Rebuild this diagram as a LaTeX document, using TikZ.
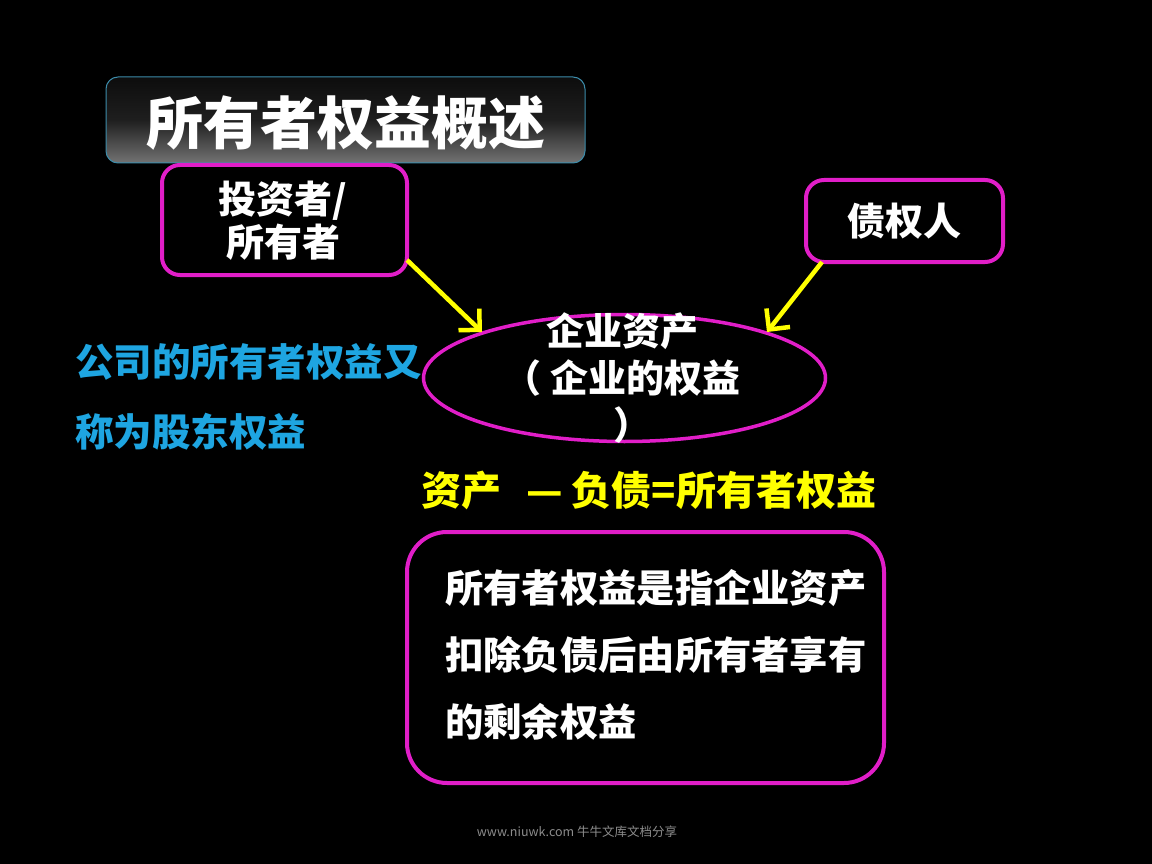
\documentclass[tikz,border=0pt]{standalone}
\usepackage{fontspec}
\setmainfont{Noto Sans CJK SC}
\usetikzlibrary{shapes.geometric,arrows.meta}
\definecolor{mag}{RGB}{225,30,200}
\definecolor{sky}{RGB}{30,165,225}
\definecolor{yel}{RGB}{255,255,0}
\definecolor{titleedge}{RGB}{60,140,170}
\tikzset{
  pinkbox/.style={draw=mag, line width=4pt, rounded corners=18pt, fill=black},
  wtext/.style={text=white, align=center, inner sep=0pt},
  yarrow/.style={draw=yel, line width=4.5pt, -{Straight Barb[length=15pt,width=30pt,line width=4.5pt]}},
}
\begin{document}
\begin{tikzpicture}[x=1pt,y=-1pt]
\fill[black] (0,0) rectangle (1152,864);
\useasboundingbox (0,0) rectangle (1152,864);
% title
\node[draw=titleedge, line width=1pt, rounded corners=12pt, minimum width=479pt, minimum height=86pt,
  top color=black!95, bottom color=black!55, middle color=black!88] (title) at (345.5,120) {};
\node[text=white, font=\bfseries\fontsize{57}{60}\selectfont, inner sep=0pt] (titletext) at (346,123) {所有者权益概述};
% investor box
\node[pinkbox, minimum width=245pt, minimum height=110pt] (inv) at (284.5,220) {};
\node[wtext, font=\bfseries\fontsize{38}{43}\selectfont] (invt) at (283,221) {投资者/\\所有者};
% creditor box
\node[pinkbox, minimum width=197pt, minimum height=82pt] (cred) at (904.5,221) {};
\node[wtext, font=\bfseries\fontsize{38}{40}\selectfont] (credt) at (904,221) {债权人};
% ellipse
\node[ellipse, draw=mag, line width=3.5pt, minimum width=402pt, minimum height=127pt] (asset) at (624.5,378) {};
\node[wtext, font=\bfseries\fontsize{38}{47}\selectfont] (assett) at (622,378) {企业资产\\（\hspace{10pt}企业的权益\\\hspace{20pt}）};
% arrows
\coordinate (a1s) at (407,260);
\coordinate (a2s) at (822,262);
\draw[yarrow] (a1s) -- (482,332);
\draw[yarrow] (a2s) -- (767,332);
% blue text
\node[text=sky, font=\bfseries\fontsize{38.5}{70}\selectfont, align=left, inner sep=0pt, anchor=west] (blue) at (75,397) {公司的所有者权益又\\称为股东权益};
% yellow formula
\node[text=yel, font=\bfseries\fontsize{40}{44}\selectfont, inner sep=0pt, anchor=west] (formula) at (421,490) {资产\ \ \,—\ 负债=所有者权益};
% definition box
\node[pinkbox, rounded corners=40pt, minimum width=477pt, minimum height=251pt] (def) at (645.5,657.5) {};
\node[text=white, font=\bfseries\fontsize{38.3}{67}\selectfont, align=left, inner sep=0pt, anchor=west] (deft) at (445,655) {所有者权益是指企业资产\\扣除负债后由所有者享有\\的剩余权益};
% watermark
\node[text=black!45, font=\fontsize{12.5}{14}\selectfont, inner sep=0pt] (wm) at (577,832) {www.niuwk.com 牛牛文库文档分享};
\end{tikzpicture}
\end{document}
